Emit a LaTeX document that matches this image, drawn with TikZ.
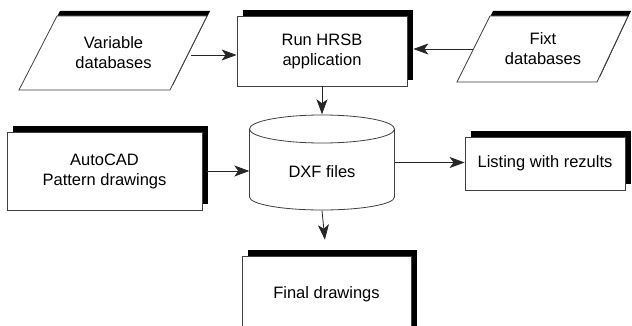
\documentclass[tikz,border=0pt]{standalone}
\usepackage{fontspec}
\setmainfont{Liberation Sans}
\usetikzlibrary{shadows,arrows.meta}

\tikzset{
	lbl/.style={align=center, font=\fontsize{16.5}{20}\selectfont},
	procbox/.style={lbl, rectangle, draw=black!75, line width=0.8pt, fill=white,
		drop shadow={shadow xshift=6pt, shadow yshift=6pt, fill=black, opacity=1}},
	outl/.style={draw=black!75, line width=0.8pt, fill=white},
	arr/.style={draw=black!85, line width=0.8pt, -{Stealth[length=15pt,width=11pt,inset=4pt]}}
}

\begin{document}
\begin{tikzpicture}[x=1pt, y=-1pt]
			%%%%% START %%%%%
			\clip (0, 0) rectangle (632, 326);
			\fill[white] (0, 0) rectangle (632, 326);
			
			% data inputs (parallelograms with a black offset shadow)
			\fill[black] (22, 85) -- (173, 85) -- (210, 11) -- (60, 11) -- cycle;
			\draw[outl] (19, 90) -- (170, 90) -- (207, 16) -- (57, 16) -- cycle;
			\node[lbl, minimum width=155pt] (vardb) at (113.5, 53) {Variable\\databases};
			
			\fill[black] (460, 77) -- (600, 77) -- (631, 11) -- (493, 11) -- cycle;
			\draw[outl] (457, 82) -- (597, 82) -- (628, 16) -- (490, 16) -- cycle;
			\node[lbl, minimum width=139pt] (fixtdb) at (543, 49) {Fixt\\databases};
			
			% process boxes
			\node[procbox, minimum width=170pt, minimum height=70pt] (run) at (322, 51) {Run HRSB\\application};
			\node[procbox, minimum width=195pt, minimum height=78pt] (autocad) at (104.5, 171) {AutoCAD\\Pattern drawings};
			\node[procbox, minimum width=160pt, minimum height=53pt] (listing) at (545, 163.5) {Listing with rezults};
			
			% DXF store
			\node[minimum width=145pt, minimum height=96pt] (dxf) at (322, 162.5) {};
			\draw[outl] (249.5, 129) -- (249.5, 197)
				arc[start angle=180, end angle=0, x radius=72.5, y radius=13] -- (394.5, 129)
				arc[start angle=0, end angle=-180, x radius=72.5, y radius=14] -- cycle;
			\draw[outl, fill=none] (249.5, 129) arc[start angle=180, end angle=0, x radius=72.5, y radius=14];
			\node[lbl] (dxftxt) at (322, 172) {DXF files};
			
			% bottom, runs off the page
			\node[procbox, minimum width=169pt, minimum height=80pt, text depth=6pt] (final) at (326.5, 296) {Final drawings};
			
			% connectors
			\draw[arr] ([yshift=-2pt]vardb.east) -- ([yshift=-2pt]vardb.east -| run.west);
			\draw[arr] (fixtdb.west) -- ([xshift=6pt]fixtdb.west -| run.east);
			\draw[arr] (run.south) -- (dxf.north);
			\draw[arr] ([xshift=4pt]autocad.east) -- (autocad.east -| dxf.west);
			\draw[arr] (dxf.east) -- (dxf.east -| listing.west);
			\draw[arr, shorten >=16pt] (dxf.south) -- (final.north);
			%%%%% END %%%%%
\end{tikzpicture}
\end{document}
